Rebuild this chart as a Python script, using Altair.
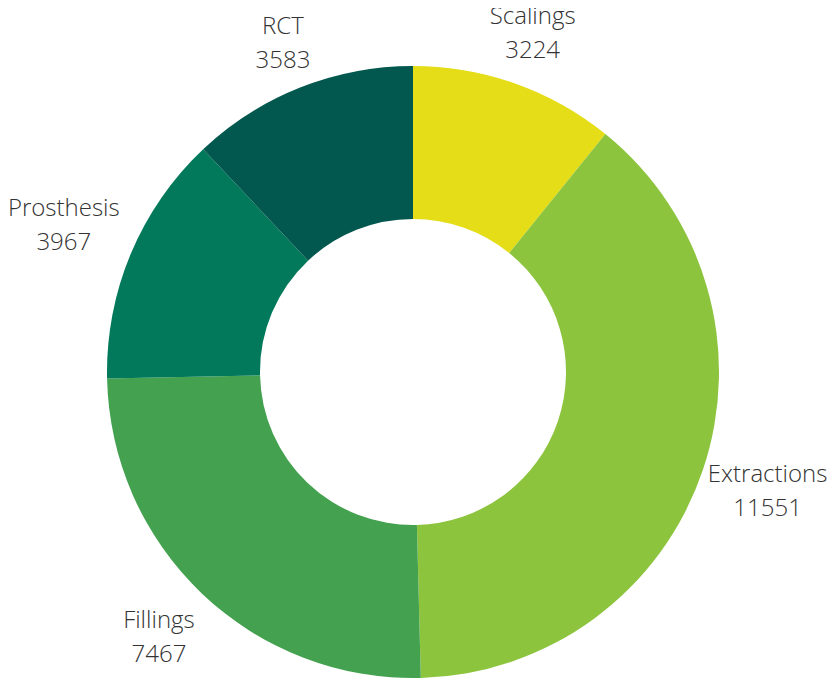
import altair as alt
import pandas as pd

categories = ["Scalings", "Extractions", "Fillings", "Prosthesis", "RCT"]
values = [3224, 11551, 7467, 3967, 3583]
colors = ["#e4dd17", "#8dc43e", "#43a14f", "#02795a", "#02574e"]

df = pd.DataFrame({"category": categories, "value": values, "order": list(range(len(categories)))})
df["label"] = df["category"] + "\n" + df["value"].astype(str)

W, H = 820, 672
cx, cy = 405, 364
FONT_SIZE = 24
LINE_H = 34
GAP_R = 318  # distance from centre to the nearest edge of each label box
ROOM_R = W - cx - 1  # keep labels inside the chart on the right

arcs = alt.Chart(df).mark_arc(innerRadius=153, outerRadius=306, stroke=None).encode(
    theta=alt.Theta("value:Q", stack=True),
    order=alt.Order("order:Q", sort="ascending"),
    color=alt.Color("category:N", scale=alt.Scale(domain=categories, range=colors), legend=None),
    x=alt.value(cx),
    y=alt.value(cy),
)

labels = alt.Chart(df).transform_joinaggregate(
    total="sum(value)"
).transform_window(
    cum="sum(value)", sort=[alt.SortField("order")], frame=[None, 0]
).transform_calculate(
    mid="2*PI*(datum.cum - datum.value/2)/datum.total",
    hw="max(length(datum.category)*10.8, length(toString(datum.value))*11.4)/2",
).transform_calculate(
    lr0=f"{GAP_R} + abs(sin(datum.mid))*datum.hw + abs(cos(datum.mid))*{LINE_H/2 + 11}"
).transform_calculate(
    lr=f"sin(datum.mid) > 0.5 ? min(datum.lr0, ({ROOM_R} - datum.hw)/sin(datum.mid)) : datum.lr0"
).mark_text(
    font="Open Sans", fontSize=FONT_SIZE, fontWeight=300, color="#333333",
    lineBreak="\n", lineHeight=LINE_H, align="center", baseline="middle", dy=-LINE_H / 2,
).encode(
    text="label:N",
    theta=alt.Theta("mid:Q", scale=None),
    radius=alt.Radius("lr:Q", scale=None),
    x=alt.value(cx),
    y=alt.value(cy),
)

chart = (arcs + labels).properties(
    width=W, height=H, padding=0, autosize="none"
).configure_view(stroke=None)

chart.save("out.html", embed_options={"renderer": "svg", "actions": False})
